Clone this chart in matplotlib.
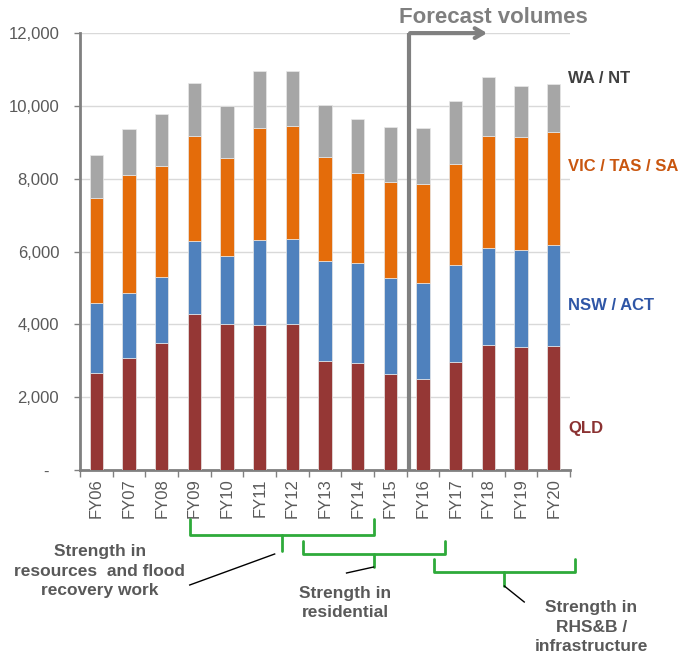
import numpy as np
import matplotlib
matplotlib.use("Agg")
import matplotlib.pyplot as plt
from matplotlib.transforms import blended_transform_factory
from matplotlib.ticker import FixedLocator

plt.rcParams['font.family'] = ['Liberation Sans', 'DejaVu Sans']

years = ['FY06', 'FY07', 'FY08', 'FY09', 'FY10', 'FY11', 'FY12', 'FY13',
         'FY14', 'FY15', 'FY16', 'FY17', 'FY18', 'FY19', 'FY20']
qld = [2655, 3085, 3500, 4285, 4000, 3995, 4020, 2985, 2930, 2635, 2510, 2965, 3435, 3370, 3405]
nsw_act = [1945, 1770, 1790, 1995, 1880, 2315, 2335, 2755, 2765, 2630, 2625, 2665, 2665, 2665, 2785]
vic_tas_sa = [2865, 3260, 3070, 2895, 2700, 3075, 3105, 2865, 2475, 2635, 2730, 2785, 3075, 3120, 3105]
wa_nt = [1180, 1250, 1420, 1465, 1415, 1585, 1490, 1420, 1465, 1520, 1540, 1720, 1610, 1385, 1300]

series = [('QLD', qld, '#953735', '#8B3232'),
          ('NSW / ACT', nsw_act, '#4F81BD', '#2F56A6'),
          ('VIC / TAS / SA', vic_tas_sa, '#E46C0A', '#C9560F'),
          ('WA / NT', wa_nt, '#A6A6A6', '#404040')]
label_y = [1150, 4530, 8350, 10740]

fig = plt.figure(figsize=(6.8, 6.57), dpi=100)
ax = fig.add_axes([0.1176, 0.2846, 0.7206, 0.665])

x = np.arange(len(years))
bottom = np.zeros(len(years))
for (name, vals, col, tcol), ly in zip(series, label_y):
    ax.bar(x, vals, width=0.41, bottom=bottom, color=col,
           edgecolor='#e8e8e8', linewidth=0.5, zorder=3)
    bottom += np.array(vals)
    ax.text(14.45, ly, name, color=tcol, fontsize=12, fontweight='bold',
            ha='left', va='center')

ax.set_xlim(-0.5, 14.5)
ax.set_ylim(0, 12000)
yt = np.arange(0, 12001, 2000)
ax.set_yticks(yt)
ax.set_yticklabels(['-  '] + ['{:,}'.format(v) for v in yt[1:]])
ax.tick_params(axis='y', length=4, width=1, color='#808080', pad=11,
               labelsize=12, labelcolor='#595959')
ax.set_xticks(x)
ax.set_xticklabels(years, rotation=90)
ax.xaxis.set_minor_locator(FixedLocator(np.arange(-0.5, 15, 1)))
ax.tick_params(axis='x', which='major', length=0, pad=6,
               labelsize=12, labelcolor='#595959')
ax.tick_params(axis='x', which='minor', length=5, width=1, color='#808080')
ax.grid(axis='y', color='#d9d9d9', linewidth=1, zorder=0)
for s in ['top', 'right']:
    ax.spines[s].set_visible(False)
for s in ['left', 'bottom']:
    ax.spines[s].set_color('#808080')
    ax.spines[s].set_linewidth(2)

# forecast divider with arrow
fx = 9.57
ax.plot([fx, fx], [0, 12000], color='#808080', lw=3, zorder=4, clip_on=False,
        solid_capstyle='butt')
ax.annotate('', xy=(12.05, 12000), xytext=(fx - 0.05, 12000),
            arrowprops=dict(arrowstyle='->,head_length=0.6,head_width=0.35',
                            color='#808080', lw=3), annotation_clip=False)
ax.text(12.14, 12420, 'Forecast volumes', color='#7F7F7F', fontsize=16,
        fontweight='bold', ha='center', va='center')

# brackets and notes below the axis
tr = blended_transform_factory(ax.transData, fig.transFigure)


def fy(px):
    return (657 - px) / 657.0


green = '#2EAA3A'
brackets = [(2.86, 8.49, 5.69, 519, 535, 551),
            (6.33, 10.66, 8.49, 541, 554, 567),
            (10.33, 14.66, 12.49, 559, 572, 586)]
for x0, x1, xm, ytop, ybar, ytip in brackets:
    ax.plot([x0, x0, x1, x1], [fy(ytop), fy(ybar), fy(ybar), fy(ytop)],
            color=green, lw=2, transform=tr, clip_on=False,
            solid_joinstyle='round', solid_capstyle='round')
    ax.plot([xm, xm], [fy(ybar), fy(ytip)], color=green, lw=2,
            transform=tr, clip_on=False, solid_capstyle='round')

leaders = [((5.46, 554), (2.86, 585)),
           ((8.49, 567), (7.66, 573)),
           ((12.49, 586), (13.1, 602))]
for (ax0, ay0), (ax1, ay1) in leaders:
    ax.plot([ax0, ax1], [fy(ay0), fy(ay1)], color='black', lw=1,
            transform=tr, clip_on=False)

notes = [(0.1, 571, 'Strength in\nresources  and flood\nrecovery work'),
         (7.63, 603, 'Strength in\nresidential'),
         (15.15, 627, 'Strength in\nRHS&B /\ninfrastructure')]
for nx, ny, txt in notes:
    ax.text(nx, fy(ny), txt, transform=tr, ha='center', va='center',
            fontsize=12.5, fontweight='bold', color='#595959', linespacing=1.35)

fig.savefig('out.png', dpi=100)
